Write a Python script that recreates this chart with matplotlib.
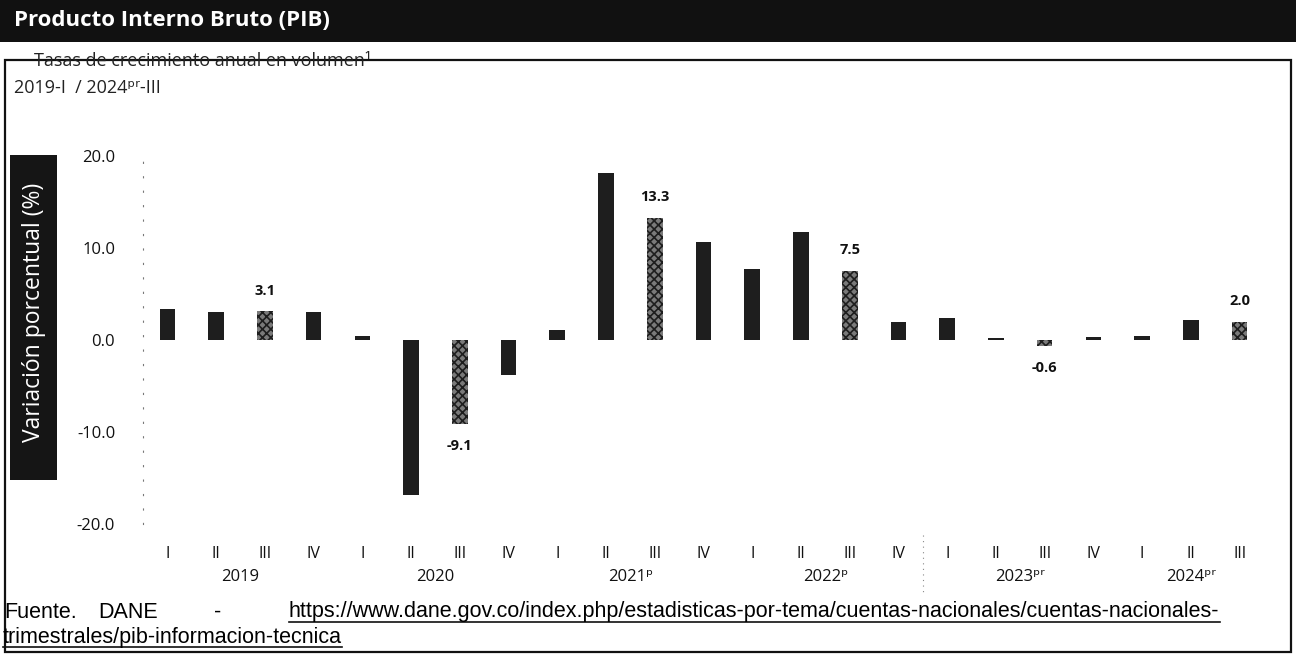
import matplotlib
matplotlib.use('Agg')
import matplotlib.pyplot as plt
from matplotlib.patches import Rectangle
from matplotlib.lines import Line2D
import matplotlib.transforms as mtransforms

# data
quarters = ['I', 'II', 'III', 'IV', 'I', 'II', 'III', 'IV', 'I', 'II', 'III', 'IV',
            'I', 'II', 'III', 'IV', 'I', 'II', 'III', 'IV', 'I', 'II', 'III']
growth = [3.4, 3.0, 3.1, 3.0, 0.4, -16.8, -9.1, -3.8, 1.1, 18.2, 13.3, 10.6,
          7.7, 11.7, 7.5, 2.0, 2.4, 0.2, -0.6, 0.3, 0.4, 2.2, 2.0]
labelled = [2, 6, 10, 14, 18, 22]
years = ['2019', '2020', '2021ᵖ', '2022ᵖ', '2023ᵖʳ', '2024ᵖʳ']
year_pos = [1.5, 5.5, 9.5, 13.5, 17.5, 21.0]

W, H = 1296, 670
plt.rcParams['hatch.linewidth'] = 1.2
fig = plt.figure(figsize=(W / 100, H / 100), dpi=100)
fam = ['Open Sans', 'DejaVu Sans']

def fx(px):
    return px / W

def fy(py):
    return 1 - py / H

# title band
fig.patches.append(Rectangle((0, fy(42)), 1, fy(0) - fy(42), transform=fig.transFigure,
                             facecolor='#111111', edgecolor='none'))
fig.text(fx(14), fy(21), 'Producto Interno Bruto (PIB)', color='white', fontsize=16,
         fontweight='bold', family=fam, va='center', ha='left')

# frame, its top line crosses the subtitle
fig.patches.append(Rectangle((fx(5), fy(652)), fx(1291) - fx(5), fy(60) - fy(652),
                             transform=fig.transFigure, facecolor='none',
                             edgecolor='#111111', linewidth=1.6))
fig.text(fx(34), fy(61), 'Tasas de crecimiento anual en volumen¹', fontsize=13,
         family=fam, va='center', ha='left', color='#222222')
fig.text(fx(14), fy(88), '2019-I  / 2024ᵖʳ-III', fontsize=13, family=fam,
         va='center', ha='left', color='#222222')

# y label box
fig.patches.append(Rectangle((fx(10), fy(480)), fx(57) - fx(10), fy(155) - fy(480),
                             transform=fig.transFigure, facecolor='#151515',
                             edgecolor='none'))
fig.text(fx(34), fy(312), 'Variación porcentual (%)', rotation=90, color='white',
         fontsize=16.5, family=fam, va='center', ha='center')

ax = fig.add_axes([fx(143), fy(524), fx(1264) - fx(143), fy(156) - fy(524)])
x = list(range(len(growth)))
colors = ['#7a7a7a' if i in labelled else '#1e1e1e' for i in x]
bars = ax.bar(x, growth, width=0.32, color=colors, edgecolor='none', zorder=2)
for i in labelled:
    bars[i].set_hatch('xxxx')
    bars[i].set_edgecolor('#1e1e1e')
    bars[i].set_linewidth(0)

for i in labelled:
    v = growth[i]
    ax.annotate(f'{v:.1f}', (i, v), xytext=(0, 15 if v >= 0 else -16),
                textcoords='offset points', ha='center', va='center',
                fontsize=10.5, fontweight='bold', family=fam, color='#111111')

ax.set_xlim(-0.5, len(growth) - 0.5)
ax.set_ylim(-20, 20)
ax.set_yticks([-20, -10, 0, 10, 20])
ax.set_yticklabels([f'{t:.1f}' for t in [-20, -10, 0, 10, 20]], family=fam, fontsize=12)
ax.set_xticks(x)
ax.set_xticklabels(quarters, family=fam, fontsize=11.5)
ax.tick_params(axis='y', length=0, pad=20, colors='#111111')
ax.tick_params(axis='x', length=0, pad=16, colors='#111111')
for s in ['top', 'right', 'bottom']:
    ax.spines[s].set_visible(False)
ax.spines['left'].set_linestyle((0, (1, 12)))
ax.spines['left'].set_color('#777777')
ax.spines['left'].set_linewidth(0.8)

trans = mtransforms.blended_transform_factory(ax.transData, ax.transAxes)
for yr, p in zip(years, year_pos):
    ax.text(p, -0.145, yr, transform=trans, ha='center', va='center', fontsize=12,
            family=fam, color='#111111')
ax.add_line(Line2D([15.5, 15.5], [-0.03, -0.19], transform=trans, clip_on=False,
                   color='#888888', linewidth=0.8, linestyle=(0, (1, 4))))

# footer
foot = ['Liberation Sans', 'DejaVu Sans']
fs = 15.5
fig.text(fx(4), fy(612), 'Fuente.', fontsize=fs, family=foot, va='center', ha='left')
fig.text(fx(98), fy(612), 'DANE', fontsize=fs, family=foot, va='center', ha='left')
fig.text(fx(214), fy(612), '-', fontsize=fs, family=foot, va='center', ha='left')
url1 = fig.text(fx(289), fy(612),
                'https://www.dane.gov.co/index.php/estadisticas-por-tema/cuentas-nacionales/cuentas-nacionales-',
                fontsize=fs, family=foot, va='center', ha='left')
url2 = fig.text(fx(3), fy(637), 'trimestrales/pib-informacion-tecnica', fontsize=fs,
                family=foot, va='center', ha='left')

fig.canvas.draw()
r = fig.canvas.get_renderer()
for t in [url1, url2]:
    bb = t.get_window_extent(renderer=r)
    fig.add_artist(Line2D([bb.x0 / W, bb.x1 / W], [(bb.y0 + 1) / H, (bb.y0 + 1) / H],
                          transform=fig.transFigure, color='#111111', linewidth=1.2))

plt.savefig('out.png', dpi=100)
plt.close()
